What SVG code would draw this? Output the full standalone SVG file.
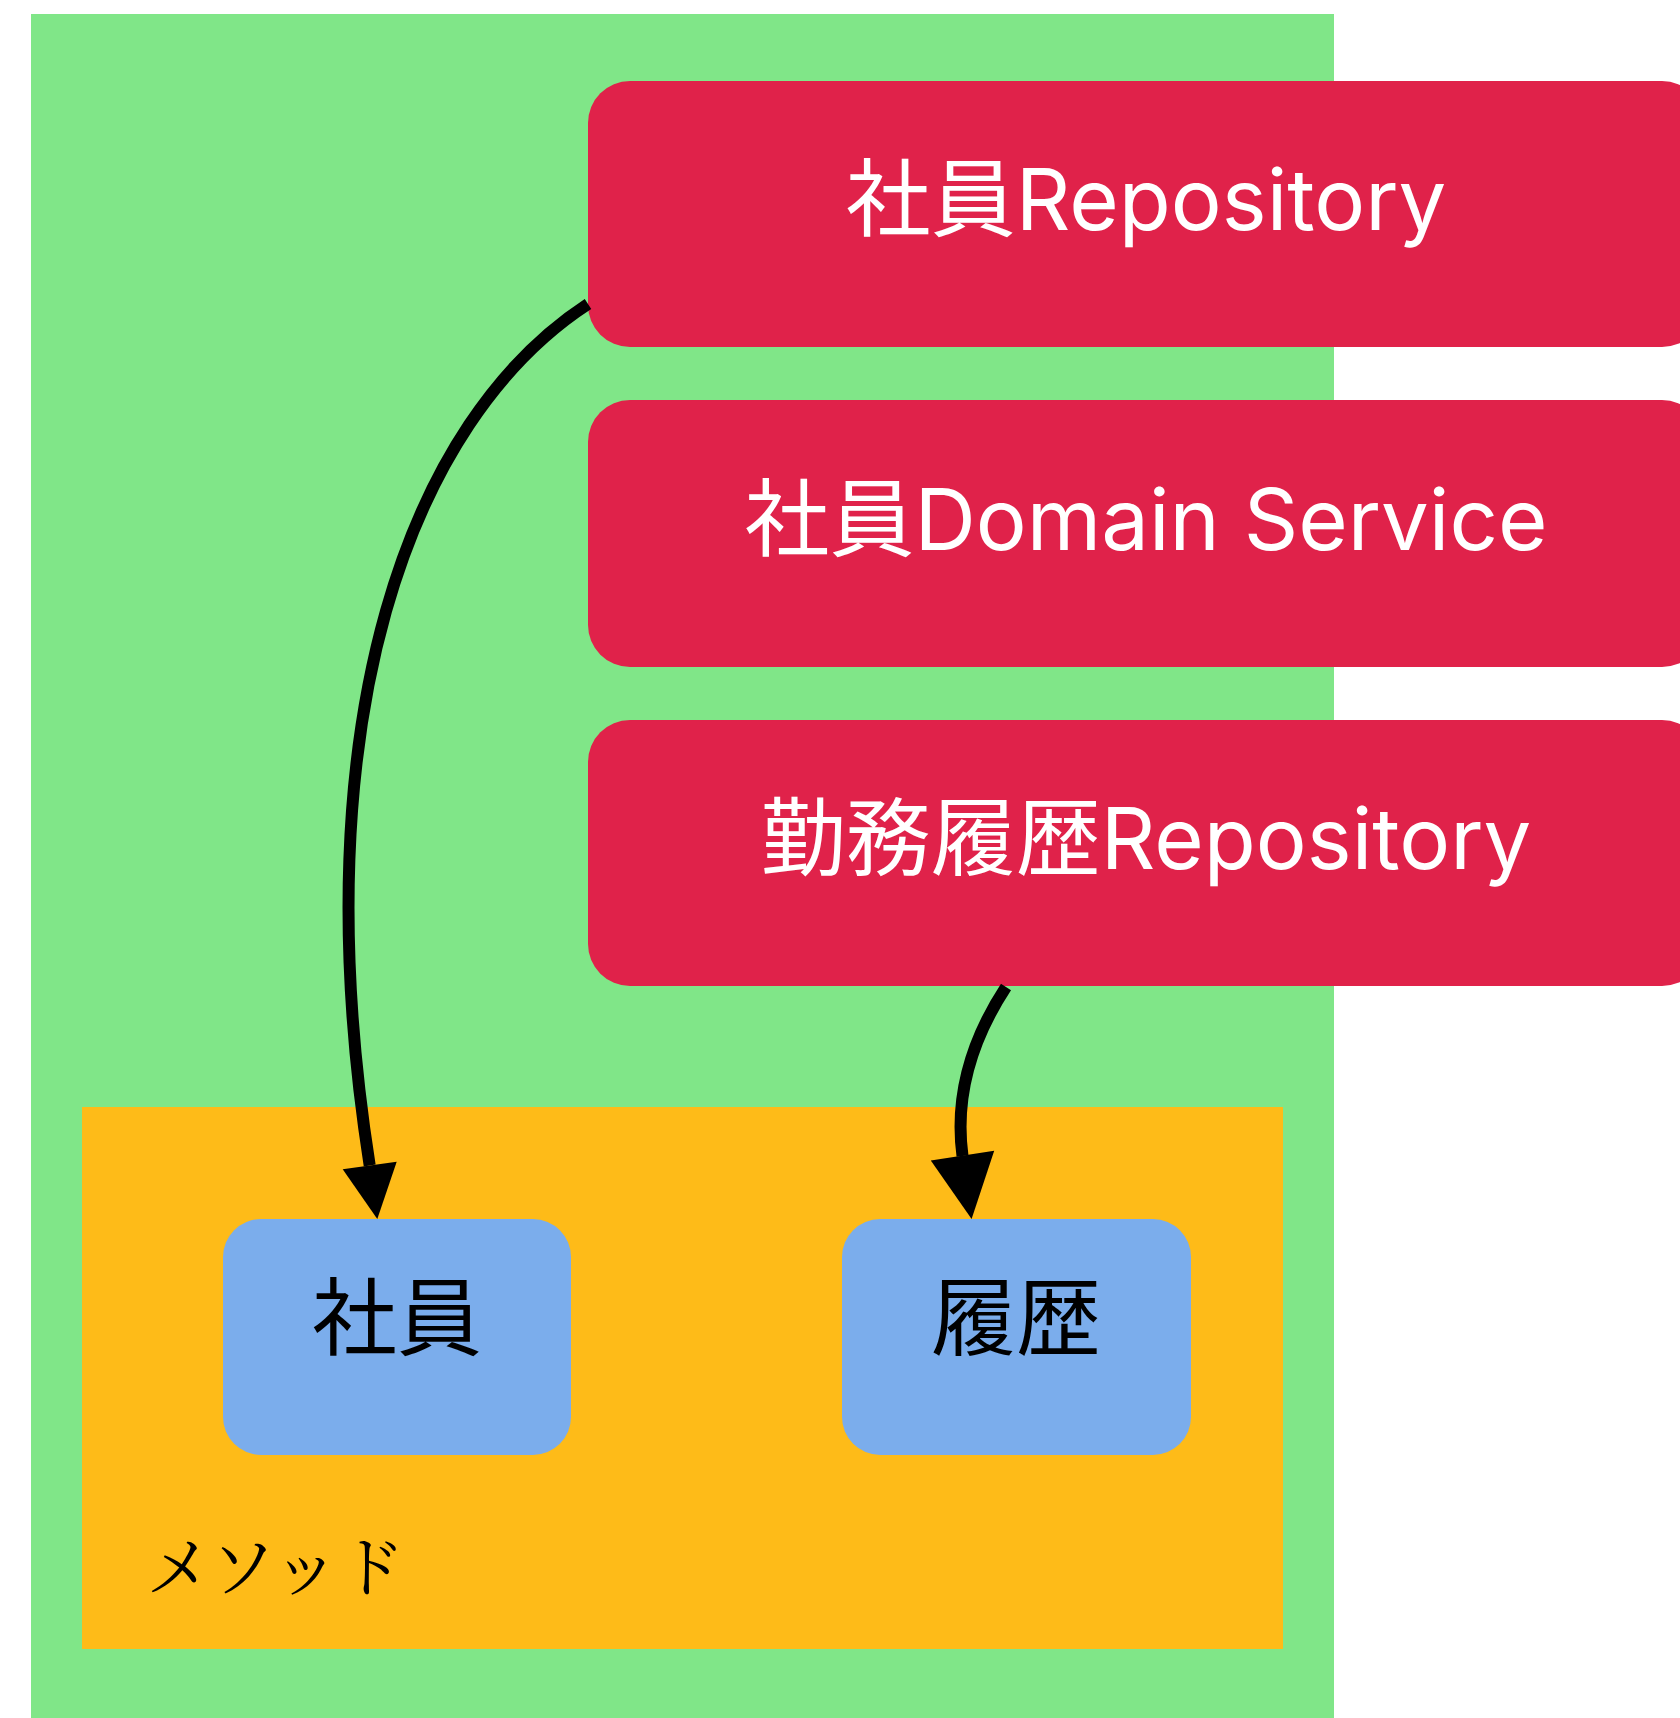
<svg xmlns="http://www.w3.org/2000/svg" width="1680" height="1718" viewBox="0 0 1680 1718">
  <style>
    .service { fill: #E0224A; }
    .entity { fill: #7BADEC; }
    .label { font-family: "Inter", "Noto Sans CJK JP", sans-serif; font-size: 85px; text-anchor: middle; }
    .white { fill: #FFFFFF; }
    .dark { fill: #000000; }
    .title { font-family: "Noto Serif CJK JP", "Liberation Serif", "Noto Sans CJK JP", serif; font-size: 66px; fill: #000000; }
    .edge { fill: none; stroke: #000000; stroke-width: 12; stroke-linecap: butt; }
    .head { fill: #000000; }
  </style>

  <!-- outer container -->
  <g id="app">
    <rect x="31" y="14" width="1303" height="1704" fill="#80E688"/>
  </g>

  <!-- method area -->
  <g id="method">
    <rect x="82" y="1107" width="1201" height="542" fill="#FEBB18"/>
    <text class="title" x="146" y="1591">メソッド</text>
  </g>

  <g id="employee-repository">
    <rect class="service" x="588" y="81" width="1116" height="266" rx="42" ry="42"/>
    <text class="label white" x="1146" y="230">社員Repository</text>
  </g>

  <g id="employee-domain-service">
    <rect class="service" x="588" y="400" width="1116" height="267" rx="42" ry="42"/>
    <text class="label white" x="1146" y="550">社員Domain Service</text>
  </g>

  <g id="history-repository">
    <rect class="service" x="588" y="720" width="1116" height="266" rx="42" ry="42"/>
    <text class="label white" x="1146" y="869">勤務履歴Repository</text>
  </g>

  <g id="employee">
    <rect class="entity" x="223" y="1219" width="348" height="236" rx="38" ry="38"/>
    <text class="label dark" x="397" y="1349">社員</text>
  </g>

  <g id="history">
    <rect class="entity" x="842" y="1219" width="349" height="236" rx="38" ry="38"/>
    <text class="label dark" x="1016" y="1349">履歴</text>
  </g>

  <!-- connectors -->
  <g id="edges">
    <path class="edge" d="M588,304 C410,420 300,720 369.7,1165.5"/>
    <polygon class="head" points="342.7,1169.3 396.7,1161.7 377.3,1219"/>
    <path class="edge" d="M1006,987 C968,1045 955,1100 962.5,1156"/>
    <polygon class="head" points="930.8,1160.6 994.2,1150.8 971.6,1219"/>
  </g>
</svg>
